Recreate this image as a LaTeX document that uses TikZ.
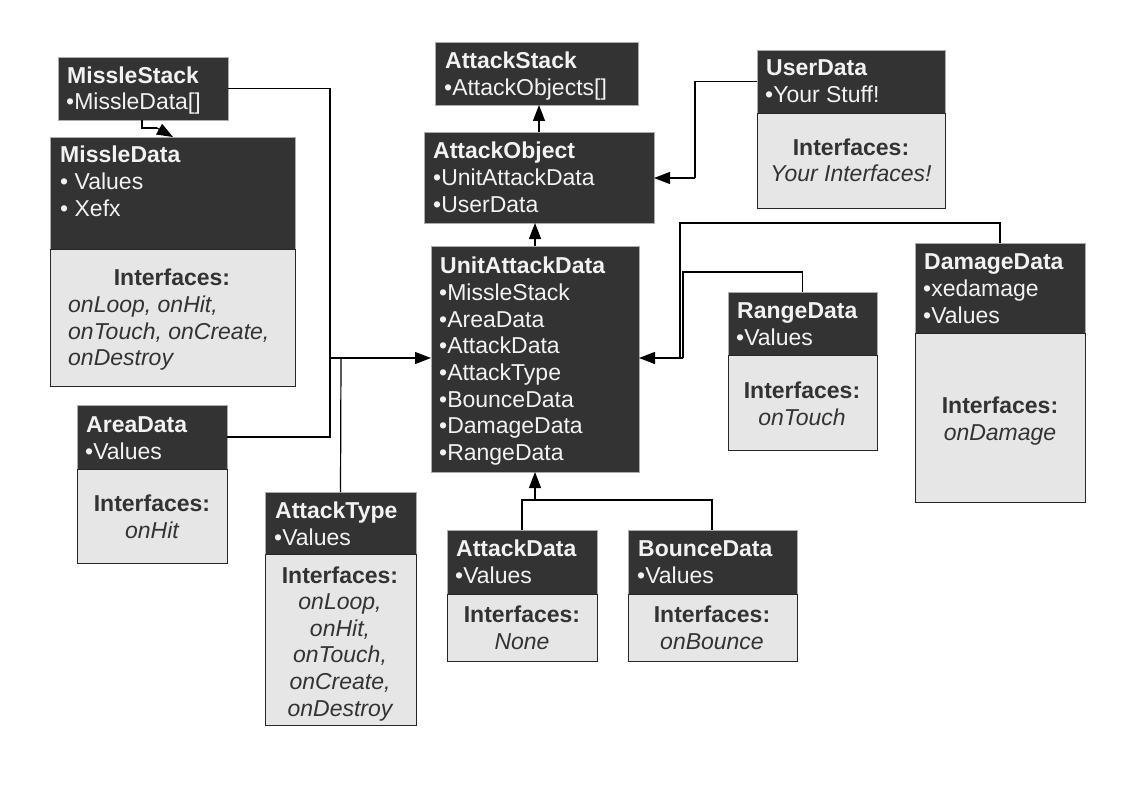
\documentclass[tikz,border=0pt]{standalone}
\usepackage{fontspec}
\setmainfont{Liberation Sans}
\usetikzlibrary{arrows.meta}
\definecolor{hdr}{HTML}{333333}
\definecolor{bodyc}{HTML}{E6E6E6}
\definecolor{dtxt}{HTML}{F2F2F2}
\definecolor{ltxt}{HTML}{333333}
\tikzset{
  darkbox/.style={draw=gray!65, fill=hdr, line width=0.8pt, inner sep=0pt, outer sep=0pt, anchor=north west},
  lightbox/.style={draw=black!85, fill=bodyc, line width=0.8pt, inner sep=0pt, outer sep=0pt, anchor=north west},
  dt/.style={text=dtxt, inner sep=0pt, anchor=base west, font=\fontsize{23}{26}\selectfont},
  lt/.style={text=ltxt, inner sep=0pt, anchor=base, font=\fontsize{23}{26}\selectfont},
  ltl/.style={lt, anchor=base west},
  conn/.style={line width=1.2pt, black},
  arr/.style={conn, -{Triangle[length=16pt,width=12pt]}}
}
\newcommand\ubox[6]{% name x y w hdark hlight
  \node[darkbox, minimum width=#4pt, minimum height=#5pt] (#1) at (#2,#3) {};
  \ifx&#6&\else
  \node[lightbox, minimum width=#4pt, minimum height=#6pt] (#1-b) at (#2,#3+#5) {};
  \fi}
\begin{document}
\begin{tikzpicture}[x=1pt,y=-1pt]
\useasboundingbox[fill=white] (0,0) rectangle (1123,794);

% boxes
\ubox{MS}{58}{57}{170}{63}{}
\ubox{MD}{50}{137}{245}{112}{137}
\ubox{AR}{77}{405}{150}{64}{94}
\ubox{AT}{265}{492}{151}{62}{171}
\ubox{AS}{435}{42}{203}{63}{}
\ubox{AO}{424}{132}{230}{91}{}
\ubox{UD}{757}{50}{188}{63}{95}
\ubox{UAD}{431}{246}{208}{226}{}
\ubox{RD}{728}{292}{149}{63}{95}
\ubox{DD}{915}{243}{170}{90}{169}
\ubox{AD}{447}{530}{150}{64}{67}
\ubox{BD}{628}{530}{169}{64}{67}

% MissleStack
\node[dt] (ms1) at (67,84) {\bfseries MissleStack};
\node[dt] (ms2) at (66,110) {•MissleData[]};
% MissleData
\node[dt] (md1) at (60,163) {\bfseries MissleData};
\node[dt] (md2) at (60,190) {• Values};
\node[dt] (md3) at (60,217) {• Xefx};
\node[lt] (md4) at (172,285) {\bfseries Interfaces:};
\node[ltl] (md5) at (68,312) {\itshape onLoop, onHit,};
\node[ltl] (md6) at (68,339) {\itshape onTouch, onCreate,};
\node[ltl] (md7) at (68,365) {\itshape onDestroy};
% AreaData
\node[dt] (ar1) at (86,432) {\bfseries AreaData};
\node[dt] (ar2) at (85,459) {•Values};
\node[lt] (ar3) at (152,511) {\bfseries Interfaces:};
\node[lt] (ar4) at (152,538) {\itshape onHit};
% AttackType
\node[dt] (at1) at (275,518) {\bfseries AttackType};
\node[dt] (at2) at (274,545) {•Values};
\node[lt] (at3) at (340,583) {\bfseries Interfaces:};
\node[lt] (at4) at (340,609) {\itshape onLoop,};
\node[lt] (at5) at (340,636) {\itshape onHit,};
\node[lt] (at6) at (340,662) {\itshape onTouch,};
\node[lt] (at7) at (340,689) {\itshape onCreate,};
\node[lt] (at8) at (340,716) {\itshape onDestroy};
% AttackStack
\node[dt] (as1) at (445,69) {\bfseries AttackStack};
\node[dt] (as2) at (444,96) {•AttackObjects[]};
% AttackObject
\node[dt] (ao1) at (433,159) {\bfseries AttackObject};
\node[dt] (ao2) at (433,186) {•UnitAttackData};
\node[dt] (ao3) at (433,213) {•UserData};
% UserData
\node[dt] (ud1) at (766,76) {\bfseries UserData};
\node[dt] (ud2) at (765,103) {•Your Stuff!};
\node[lt] (ud3) at (851,156) {\bfseries Interfaces:};
\node[lt] (ud4) at (851,182) {\itshape Your Interfaces!};
% UnitAttackData
\node[dt] (u1) at (440,273) {\bfseries UnitAttackData};
\node[dt] (u2) at (439,300) {•MissleStack};
\node[dt] (u3) at (439,327) {•AreaData};
\node[dt] (u4) at (439,353) {•AttackData};
\node[dt] (u5) at (439,380) {•AttackType};
\node[dt] (u6) at (439,407) {•BounceData};
\node[dt] (u7) at (439,433) {•DamageData};
\node[dt] (u8) at (439,460) {•RangeData};
% RangeData
\node[dt] (rd1) at (737,318) {\bfseries RangeData};
\node[dt] (rd2) at (736,345) {•Values};
\node[lt] (rd3) at (802,398) {\bfseries Interfaces:};
\node[lt] (rd4) at (802,425) {\itshape onTouch};
% DamageData
\node[dt] (dd1) at (924,269) {\bfseries DamageData};
\node[dt] (dd2) at (923,296) {•xedamage};
\node[dt] (dd3) at (923,323) {•Values};
\node[lt] (dd4) at (1000,413) {\bfseries Interfaces:};
\node[lt] (dd5) at (1000,440) {\itshape onDamage};
% AttackData
\node[dt] (ad1) at (456,556) {\bfseries AttackData};
\node[dt] (ad2) at (455,583) {•Values};
\node[lt] (ad3) at (522,622) {\bfseries Interfaces:};
\node[lt] (ad4) at (522,649) {\itshape None};
% BounceData
\node[dt] (bd1) at (638,556) {\bfseries BounceData};
\node[dt] (bd2) at (637,583) {•Values};
\node[lt] (bd3) at (712,622) {\bfseries Interfaces:};
\node[lt] (bd4) at (712,649) {\itshape onBounce};

% junction coordinates
\coordinate (jl) at (330,358);
\coordinate (jt) at (341,358);
\coordinate (msa) at (142,120);
\coordinate (msb) at (142,128);
\coordinate (msc) at (157,128);
\coordinate (msd) at (173,137);
\coordinate (udb) at (695,178);
\coordinate (jb) at (535,500);
\coordinate (adt) at (522,530);
\coordinate (bdt) at (712,530);
\coordinate (rdb) at (683,272);
\coordinate (rdc) at (683,358);
\coordinate (ddb) at (680,223);
\coordinate (ddc) at (680,358);
\coordinate (uae) at (639,358);

% connectors
\draw[conn] (msa) -- (msb) -- (msc);
\draw[arr] (msc) -- (msd);
\draw[conn] (MS.east) -| (jl);
\draw[conn] (AR.east) -| (jl);
\draw[arr] (jl) -- (UAD.west |- jl);
\draw[conn] (AT.north) -- (jt);
\draw[conn] (UD.west) -| (udb);
\draw[arr] (udb) -- (AO.east |- udb);
\draw[arr] (AO.north) -- (AO.north |- AS.south);
\draw[arr] (UAD.north) -- (UAD.north |- AO.south);
\draw[conn] (adt) |- (jb) -| (bdt);
\draw[arr] (jb) -- (UAD.south);
\draw[conn] (RD.north) |- (rdb) -- (rdc);
\draw[conn] (DD.north) |- (ddb) -- (ddc);
\draw[arr] (rdc) -- (uae);
\end{tikzpicture}
\end{document}
